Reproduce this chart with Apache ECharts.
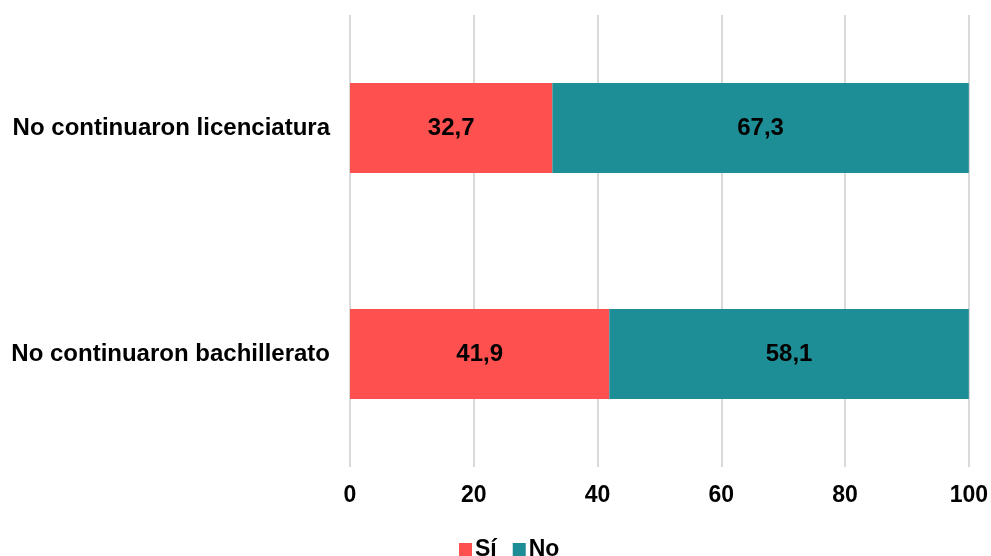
<!DOCTYPE html>
<html><head><meta charset="utf-8">
<script src="https://cdn.jsdelivr.net/npm/echarts@6/dist/echarts.min.js"></script>
<style>html,body{margin:0;padding:0;background:#fff}#c{width:991px;height:556px}</style>
</head><body><div id="c"></div>
<script>
const categories = ['No continuaron bachillerato', 'No continuaron licenciatura'];
const si = [41.9, 32.7];
const no = [58.1, 67.3];
const xTicks = [0, 20, 40, 60, 80, 100];
const font = "'Liberation Sans', Arial, sans-serif";
const chart = echarts.init(document.getElementById('c'));
const fmt = p => String(p.value).replace('.', ',');
chart.setOption({
  animation: false,
  grid: {left: 350, right: 21, top: 15, bottom: 89},
  legend: {
    top: 538, left: 459, itemWidth: 13, itemHeight: 13, itemGap: 16,
    icon: 'rect', padding: 0,
    textStyle: {fontFamily: font, fontWeight: 'bold', fontSize: 23, color: '#000', padding: [0,0,0,-2]},
    data: ['Sí', 'No']
  },
  xAxis: {
    type: 'value', min: xTicks[0], max: xTicks[xTicks.length-1], interval: 20,
    axisLine: {show: false}, axisTick: {show: false},
    splitLine: {lineStyle: {color: '#D9D9D9', width: 2}},
    axisLabel: {fontFamily: font, fontWeight: 'bold', fontSize: 23, color: '#000', margin: 17}
  },
  yAxis: {
    type: 'category', data: categories,
    axisLine: {show: false}, axisTick: {show: false},
    axisLabel: {fontFamily: font, fontWeight: 'bold', fontSize: 24, color: '#000', margin: 20}
  },
  series: [
    {name: 'Sí', type: 'bar', stack: 't', data: si, barWidth: 90, itemStyle: {color: '#FF5050'},
     label: {show: true, position: 'inside', formatter: fmt, fontFamily: font, fontWeight: 'bold', fontSize: 24, color: '#000'}},
    {name: 'No', type: 'bar', stack: 't', data: no, barWidth: 90, itemStyle: {color: '#1E8E96'},
     label: {show: true, position: 'inside', formatter: fmt, fontFamily: font, fontWeight: 'bold', fontSize: 24, color: '#000'}}
  ]
});
</script></body></html>
